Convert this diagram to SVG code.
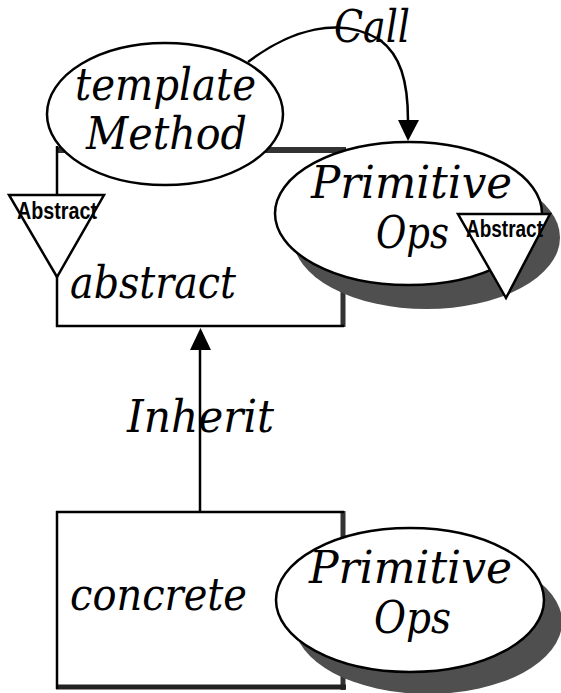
<svg xmlns="http://www.w3.org/2000/svg" width="561" height="693" viewBox="0 0 561 693">
<style>
.lbl{font-family:"DejaVu Serif","Liberation Serif",serif;font-style:italic;font-size:44px;fill:#000}
.tag{font-family:"Liberation Sans","DejaVu Sans",sans-serif;font-weight:bold;font-size:23px;fill:#000}
.shape{fill:#fff;stroke:#000;stroke-width:2.5}
.shadow{fill:#4f4f4f}
.edge{stroke:#333;fill:none}
.conn{fill:none;stroke:#000;stroke-width:2.5}
</style>
<rect width="561" height="693" fill="#fff"/>
<g id="abstract">
<rect x="57" y="150" width="286" height="176" fill="#fff"/>
<line x1="57" y1="150" x2="346" y2="150" class="edge" stroke-width="6"/>
<line x1="343" y1="150" x2="343" y2="327" class="edge" stroke-width="5"/>
<line x1="56" y1="326" x2="344" y2="326" stroke="#000" stroke-width="2.5"/>
<line x1="57" y1="146" x2="57" y2="327" stroke="#000" stroke-width="2.5"/>
<text class="lbl" x="70" y="298" textLength="166" lengthAdjust="spacingAndGlyphs">abstract</text>
</g>
<g id="templateMethod">
<ellipse cx="165" cy="114" rx="118" ry="71" class="shape"/>
<text class="lbl" x="75" y="100" textLength="181" lengthAdjust="spacingAndGlyphs">template</text>
<text class="lbl" x="86" y="149" textLength="161" lengthAdjust="spacingAndGlyphs">Method</text>
</g>
<g id="abstractTagLeft">
<polygon points="9,195 104,195 57,277" class="shape"/>
<text class="tag" x="17" y="219" textLength="80" lengthAdjust="spacingAndGlyphs">Abstract</text>
</g>
<g id="primitiveOpsTop">
<ellipse cx="426.5" cy="237.5" rx="133.5" ry="71.5" class="shadow"/>
<ellipse cx="408.5" cy="213.5" rx="133.5" ry="71.5" class="shape"/>
<text class="lbl" x="311" y="198" textLength="201" lengthAdjust="spacingAndGlyphs">Primitive</text>
<text class="lbl" x="376" y="248" textLength="73" lengthAdjust="spacingAndGlyphs">Ops</text>
</g>
<g id="abstractTagRight">
<polygon points="458,214 550,214 506,298" class="shape"/>
<text class="tag" x="466" y="237" textLength="77" lengthAdjust="spacingAndGlyphs">Abstract</text>
</g>
<g id="concrete">
<rect x="57" y="512" width="286" height="176" fill="#fff"/>
<line x1="343" y1="511" x2="343" y2="690" class="edge" stroke-width="5"/>
<line x1="56" y1="687" x2="346" y2="687" stroke="#222" stroke-width="5"/>
<line x1="56" y1="512" x2="344" y2="512" stroke="#000" stroke-width="2.5"/>
<line x1="57" y1="511" x2="57" y2="689" stroke="#000" stroke-width="2.5"/>
<text class="lbl" x="70" y="610" textLength="177" lengthAdjust="spacingAndGlyphs">concrete</text>
</g>
<g id="primitiveOpsBottom">
<ellipse cx="428" cy="622" rx="134" ry="72" class="shadow"/>
<ellipse cx="410" cy="600" rx="134" ry="72" class="shape"/>
<text class="lbl" x="309" y="583" textLength="203" lengthAdjust="spacingAndGlyphs">Primitive</text>
<text class="lbl" x="374" y="633" textLength="77" lengthAdjust="spacingAndGlyphs">Ops</text>
</g>
<g id="connectors">
<path d="M248,62 C290,30 340,15 380,40 C400,55 408,80 408,121" class="conn"/>
<path d="M398,120 L419,120 L408,141 Z" fill="#000"/>
<text class="lbl" x="334" y="42" textLength="76" lengthAdjust="spacingAndGlyphs">Call</text>
<line x1="200" y1="512" x2="200" y2="349" class="conn"/>
<path d="M190,350 L211,350 L200.5,328 Z" fill="#000"/>
<text class="lbl" x="127" y="432" textLength="147" lengthAdjust="spacingAndGlyphs">Inherit</text>
</g>
</svg>
